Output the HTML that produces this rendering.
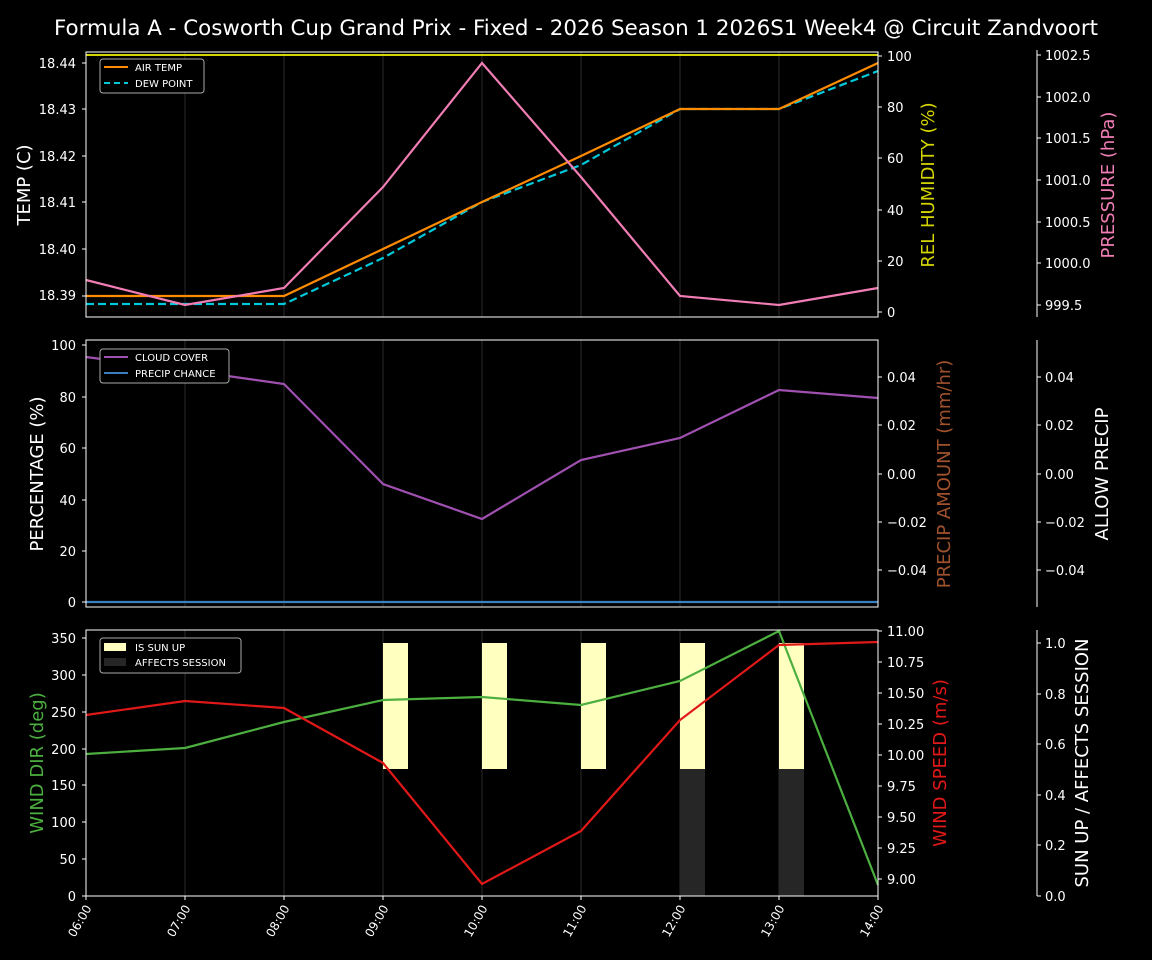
<!DOCTYPE html><html><head><meta charset="utf-8"><style>body{margin:0;background:#000}svg{display:block}text{font-family:"DejaVu Sans","Liberation Sans",sans-serif;fill:#fff}</style></head><body>
<svg width="1152" height="960" xmlns="http://www.w3.org/2000/svg">
<rect width="1152" height="960" fill="#000"/>
<text x="576" y="35" font-size="21.4" text-anchor="middle">Formula A - Cosworth Cup Grand Prix - Fixed - 2026 Season 1 2026S1 Week4 @ Circuit Zandvoort</text>
<g stroke="#151515" stroke-width="2">
<path d="M185 52V317M284 52V317M383 52V317M482 52V317M581 52V317M680 52V317M779 52V317"/>
<path d="M185 340V607M284 340V607M383 340V607M482 340V607M581 340V607M680 340V607M779 340V607"/>
<path d="M185 630V896M284 630V896M383 630V896M482 630V896M581 630V896M680 630V896M779 630V896"/>
</g>
<!-- panel 1 -->
<line x1="86" y1="55" x2="878" y2="55" stroke="#d4d400" stroke-width="2"/>
<polyline fill="none" stroke="#00c8d8" stroke-width="2.2" stroke-dasharray="8,4" points="86,304 185,304 284,304 383,258 482,202 581,165 680,109 779,109 878,71"/>
<polyline fill="none" stroke="#ff8c00" stroke-width="2.2" points="86,296 185,296 284,296 383,249 482,202 581,156 680,109 779,109 878,63"/>
<polyline fill="none" stroke="#f07db4" stroke-width="2.2" points="86,280 185,305 284,288 383,187 482,63 581,177 680,296 779,305 878,288"/>
<rect x="86" y="52" width="792" height="265" fill="none" stroke="#fff" stroke-width="1"/>
<g font-size="13" text-anchor="end">
<text x="76" y="68">18.44</text><text x="76" y="114">18.43</text><text x="76" y="161">18.42</text><text x="76" y="207">18.41</text><text x="76" y="254">18.40</text><text x="76" y="300">18.39</text></g>
<g stroke="#fff"><path d="M86 63h-4M86 109h-4M86 156h-4M86 202h-4M86 249h-4M86 296h-4M878 56h4M878 107h4M878 158h4M878 210h4M878 261h4M878 312h4"/>
<path d="M1037 50V317M1037 55h4M1037 97h4M1037 138h4M1037 180h4M1037 222h4M1037 263h4M1037 305h4"/></g>
<g font-size="13"><text x="887" y="61">100</text><text x="887" y="112">80</text><text x="887" y="163">60</text><text x="887" y="215">40</text><text x="887" y="266">20</text><text x="887" y="317">0</text>
<text x="1045" y="60">1002.5</text><text x="1045" y="102">1002.0</text><text x="1045" y="143">1001.5</text><text x="1045" y="185">1001.0</text><text x="1045" y="227">1000.5</text><text x="1045" y="268">1000.0</text><text x="1045" y="310">999.5</text></g>
<text transform="translate(30,185) rotate(-90)" font-size="18" text-anchor="middle">TEMP (C)</text>
<text transform="translate(934,185) rotate(-90)" font-size="18" text-anchor="middle" style="fill:#d4d400">REL HUMIDITY (%)</text>
<text transform="translate(1114,185) rotate(-90)" font-size="18" text-anchor="middle" style="fill:#f07db4">PRESSURE (hPa)</text>
<rect x="100" y="59" width="104" height="34" rx="3" fill="#000" stroke="#aaa"/>
<line x1="104" y1="67" x2="128" y2="67" stroke="#ff8c00" stroke-width="2"/><text x="135" y="71" font-size="10">AIR TEMP</text>
<line x1="104" y1="83" x2="128" y2="83" stroke="#00c8d8" stroke-width="2" stroke-dasharray="6,4"/><text x="135" y="87" font-size="10">DEW POINT</text>
<!-- panel 2 -->
<line x1="86" y1="602" x2="878" y2="602" stroke="#3a7fc0" stroke-width="2.2"/>
<polyline fill="none" stroke="#a050b0" stroke-width="2.2" points="86,357 185,370 284,384 383,484 482,519 581,460 680,438 779,390 878,398"/>
<rect x="86" y="340" width="792" height="267" fill="none" stroke="#fff"/>
<g stroke="#fff"><path d="M86 345h-4M86 397h-4M86 448h-4M86 500h-4M86 551h-4M86 602h-4M878 377h4M878 425h4M878 474h4M878 522h4M878 570h4M1037 340V607M1037 377h4M1037 425h4M1037 474h4M1037 522h4M1037 570h4"/></g>
<g font-size="13" text-anchor="end"><text x="76" y="350">100</text><text x="76" y="402">80</text><text x="76" y="453">60</text><text x="76" y="505">40</text><text x="76" y="556">20</text><text x="76" y="607">0</text></g>
<g font-size="13"><text x="887" y="382">0.04</text><text x="887" y="430">0.02</text><text x="887" y="479">0.00</text><text x="887" y="527">−0.02</text><text x="887" y="575">−0.04</text>
<text x="1045" y="382">0.04</text><text x="1045" y="430">0.02</text><text x="1045" y="479">0.00</text><text x="1045" y="527">−0.02</text><text x="1045" y="575">−0.04</text></g>
<text transform="translate(43,474) rotate(-90)" font-size="18" text-anchor="middle">PERCENTAGE (%)</text>
<text transform="translate(950,474) rotate(-90)" font-size="18" text-anchor="middle" style="fill:#a0522d">PRECIP AMOUNT (mm/hr)</text>
<text transform="translate(1108,474) rotate(-90)" font-size="18" text-anchor="middle">ALLOW PRECIP</text>
<rect x="100" y="349" width="129" height="34" rx="3" fill="#000" stroke="#aaa"/>
<line x1="104" y1="357" x2="128" y2="357" stroke="#a050b0" stroke-width="2"/><text x="135" y="361" font-size="10">CLOUD COVER</text>
<line x1="104" y1="373" x2="128" y2="373" stroke="#3a7fc0" stroke-width="2"/><text x="135" y="377" font-size="10">PRECIP CHANCE</text>
<!-- panel 3 -->
<g fill="#ffffc0"><rect x="383" y="643" width="25" height="126"/><rect x="482" y="643" width="25" height="126"/><rect x="581" y="643" width="25" height="126"/><rect x="680" y="643" width="25" height="126"/><rect x="779" y="643" width="25" height="126"/></g>
<g fill="#262626"><rect x="680" y="769" width="25" height="127"/><rect x="779" y="769" width="25" height="127"/></g>
<polyline fill="none" stroke="#4caf40" stroke-width="2.2" points="86,754 185,748 284,722 383,700 482,697 581,705 680,681 779,631 878,885"/>
<polyline fill="none" stroke="#e01818" stroke-width="2.2" points="86,715 185,701 284,708 383,763 482,884 581,831 680,720 779,645 878,642"/>
<rect x="86" y="630" width="792" height="266" fill="none" stroke="#fff"/>
<g stroke="#fff"><path d="M86 638h-4M86 675h-4M86 712h-4M86 749h-4M86 785h-4M86 822h-4M86 859h-4M86 896h-4M878 631h4M878 662h4M878 693h4M878 724h4M878 755h4M878 786h4M878 817h4M878 848h4M878 879h4M1037 630V896M1037 643h4M1037 694h4M1037 744h4M1037 795h4M1037 845h4M1037 896h4"/>
<path d="M86 896v4M185 896v4M284 896v4M383 896v4M482 896v4M581 896v4M680 896v4M779 896v4M878 896v4"/></g>
<g font-size="13" text-anchor="end"><text x="76" y="643">350</text><text x="76" y="680">300</text><text x="76" y="717">250</text><text x="76" y="754">200</text><text x="76" y="790">150</text><text x="76" y="827">100</text><text x="76" y="864">50</text><text x="76" y="901">0</text></g>
<g font-size="13"><text x="887" y="636">11.00</text><text x="887" y="667">10.75</text><text x="887" y="698">10.50</text><text x="887" y="729">10.25</text><text x="887" y="760">10.00</text><text x="887" y="791">9.75</text><text x="887" y="822">9.50</text><text x="887" y="853">9.25</text><text x="887" y="884">9.00</text>
<text x="1045" y="648">1.0</text><text x="1045" y="699">0.8</text><text x="1045" y="749">0.6</text><text x="1045" y="800">0.4</text><text x="1045" y="850">0.2</text><text x="1045" y="901">0.0</text></g>
<text transform="translate(43,763) rotate(-90)" font-size="18" text-anchor="middle" style="fill:#4caf40">WIND DIR (deg)</text>
<text transform="translate(946,763) rotate(-90)" font-size="18" text-anchor="middle" style="fill:#e01818">WIND SPEED (m/s)</text>
<text transform="translate(1088,763) rotate(-90)" font-size="18" text-anchor="middle">SUN UP / AFFECTS SESSION</text>
<rect x="100" y="638" width="141" height="35" rx="3" fill="#000" stroke="#aaa"/>
<rect x="104" y="643" width="22" height="8" fill="#ffffc0"/><text x="135" y="651" font-size="10">IS SUN UP</text>
<rect x="104" y="658" width="22" height="8" fill="#262626"/><text x="135" y="666" font-size="10">AFFECTS SESSION</text>
<g font-size="12" text-anchor="end">
<text transform="translate(92,908) rotate(-60)">06:00</text><text transform="translate(191,908) rotate(-60)">07:00</text><text transform="translate(290,908) rotate(-60)">08:00</text><text transform="translate(389,908) rotate(-60)">09:00</text><text transform="translate(488,908) rotate(-60)">10:00</text><text transform="translate(587,908) rotate(-60)">11:00</text><text transform="translate(686,908) rotate(-60)">12:00</text><text transform="translate(785,908) rotate(-60)">13:00</text><text transform="translate(884,908) rotate(-60)">14:00</text></g>
</svg></body></html>
